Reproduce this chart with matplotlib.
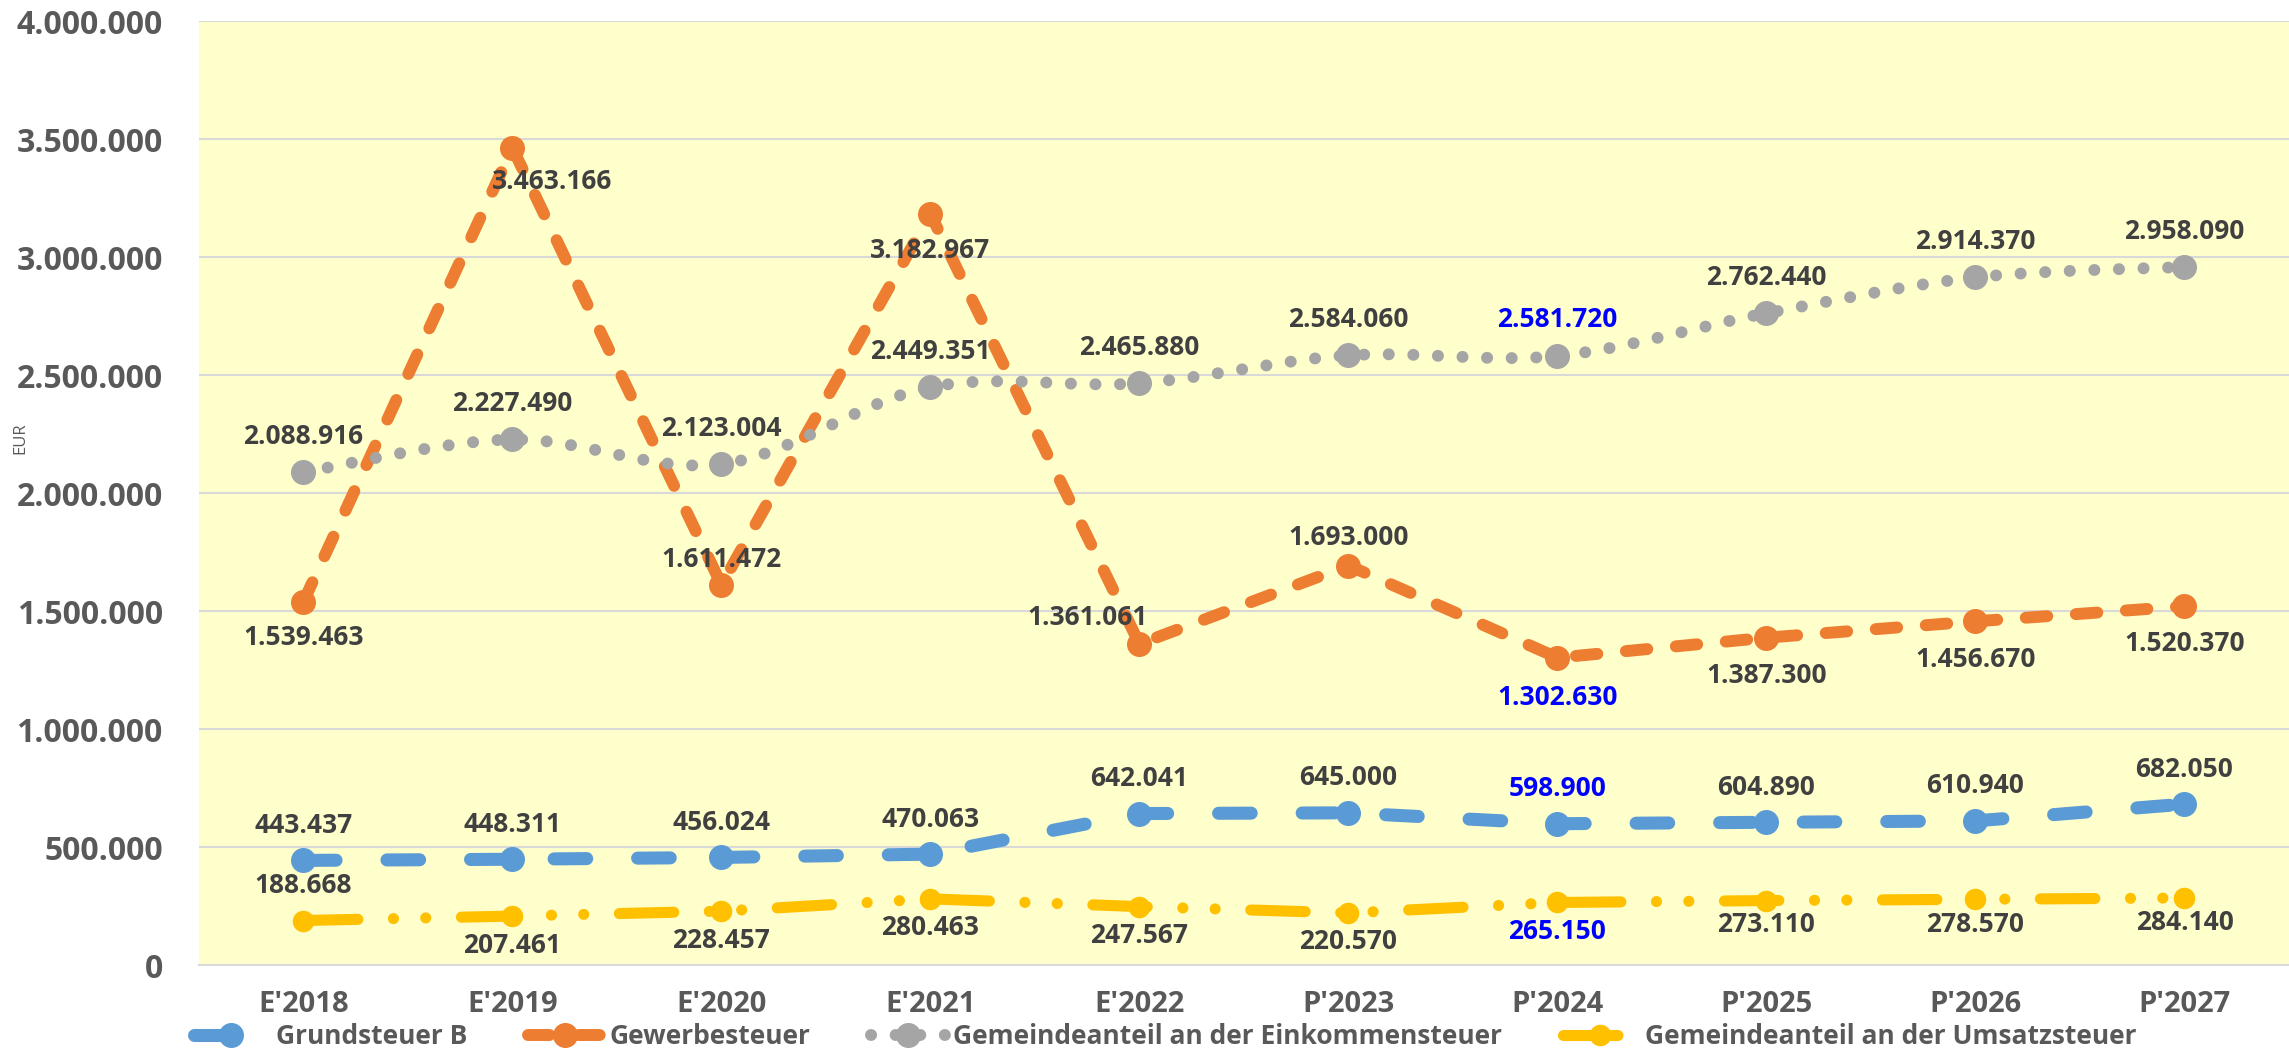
import numpy as np
import matplotlib.pyplot as plt
from matplotlib.lines import Line2D
from matplotlib.ticker import FuncFormatter

plt.rcParams['font.family'] = ['Open Sans', 'DejaVu Sans']

years = ["E'2018", "E'2019", "E'2020", "E'2021", "E'2022",
         "P'2023", "P'2024", "P'2025", "P'2026", "P'2027"]

grundsteuer = [443437, 448311, 456024, 470063, 642041,
               645000, 598900, 604890, 610940, 682050]
gewerbe = [1539463, 3463166, 1611472, 3182967, 1361061,
           1693000, 1302630, 1387300, 1456670, 1520370]
einkommen = [2088916, 2227490, 2123004, 2449351, 2465880,
             2584060, 2581720, 2762440, 2914370, 2958090]
umsatz = [188668, 207461, 228457, 280463, 247567,
          220570, 265150, 273110, 278570, 284140]

names = ["Grundsteuer B", "Gewerbesteuer",
         "Gemeindeanteil an der Einkommensteuer",
         "Gemeindeanteil an der Umsatzsteuer"]


def smooth(x, y, n=30):
    # Excel-like smoothed line (cubic bezier, catmull-rom control points)
    x = np.asarray(x, float)
    y = np.asarray(y, float)
    px = np.concatenate([[x[0]], x, [x[-1]]])
    py = np.concatenate([[y[0]], y, [y[-1]]])
    xs, ys = [], []
    t = np.linspace(0, 1, n)
    for i in range(1, len(px) - 2):
        p0 = np.array([px[i], py[i]])
        p3 = np.array([px[i + 1], py[i + 1]])
        c1 = p0 + (np.array([px[i + 1], py[i + 1]]) - np.array([px[i - 1], py[i - 1]])) / 6
        c2 = p3 - (np.array([px[i + 2], py[i + 2]]) - np.array([px[i], py[i]])) / 6
        b = (np.outer((1 - t) ** 3, p0) + np.outer(3 * (1 - t) ** 2 * t, c1)
             + np.outer(3 * (1 - t) * t ** 2, c2) + np.outer(t ** 3, p3))
        if i > 1:
            b = b[1:]
        xs.extend(b[:, 0])
        ys.extend(b[:, 1])
    return xs, ys


fig = plt.figure(figsize=(22.89, 10.51), dpi=100)
ax = fig.add_axes([0.0869, 0.0818, 0.9131, 0.898])
ax.set_facecolor('#FFFFCC')

x = np.arange(len(years))

styles = [
    dict(color='#5B9BD5', lw=9.4, dashes=(2.5, 3.9), ms=17, smooth=False),
    dict(color='#ED7D31', lw=8.6, dashes=(1.8, 2.4), ms=17, smooth=False),
    dict(color='#A5A5A5', lw=8.6, dashes=(0.01, 2.05), ms=17, smooth=True),
    dict(color='#FFC000', lw=8.0, dashes=(4.9, 3.2, 0.01, 2.9, 0.01, 3.2), ms=14.5,
         smooth=False),
]
series = [grundsteuer, gewerbe, einkommen, umsatz]

# label offsets in pixels (dx, dy), positive dy = up
lab_off = [
    [(0, 35)] * 10,
    [(0, -36), (40, -34), (0, 25), (0, -36), (-52, 26), (0, 28),
     (0, -40), (0, -38), (0, -38), (0, -37)],
    [(0, 36)] * 10,
    [(0, 35)] + [(0, -29)] * 5 + [(0, -29), (0, -24), (0, -25), (0, -25)],
]
blue_idx = 6

handles = []
for vals, st, name, offs in zip(series, styles, names, lab_off):
    if st['smooth']:
        sx, sy = smooth(x, vals)
    else:
        sx, sy = x, vals
    ln, = ax.plot(sx, sy, color=st['color'], lw=st['lw'],
                  dash_capstyle='round', solid_capstyle='round')
    ln.set_dashes(st['dashes'])
    ax.plot(x, vals, 'o', color=st['color'], ms=st['ms'], zorder=3)
    for i, v in enumerate(vals):
        txt = f"{v:,}".replace(",", ".")
        ax.annotate(txt, (x[i], v), xytext=offs[i], textcoords='offset pixels',
                    ha='center', va='center', fontsize=19, fontweight='bold',
                    color='#0000FF' if i == blue_idx else '#404040', zorder=5)
    h = Line2D([], [], color=st['color'], lw=st['lw'], marker='o', ms=st['ms'],
               dash_capstyle='round', solid_capstyle='round')
    h.set_dashes(st['dashes'])
    handles.append(h)

ax.set_xlim(-0.5, 9.5)
ax.set_ylim(0, 4000000)
ax.set_yticks(np.arange(0, 4000001, 500000))
ax.yaxis.set_major_formatter(FuncFormatter(lambda v, p: f"{int(v):,}".replace(",", ".")))
ax.set_xticks(x)
ax.set_xticklabels(years)
ax.grid(axis='y', color='#D9D9D9', lw=1.5, zorder=0)
ax.set_axisbelow(True)
for s in ['top', 'right', 'left']:
    ax.spines[s].set_visible(False)
ax.spines['bottom'].set_color('#D9D9D9')
ax.spines['bottom'].set_linewidth(1.5)
ax.tick_params(axis='y', length=0, pad=26, labelsize=23, labelcolor='#595959')
ax.tick_params(axis='x', length=0, pad=18, labelsize=21, labelcolor='#595959')
for lab in ax.get_xticklabels() + ax.get_yticklabels():
    lab.set_fontweight('bold')

fig.text(0.0087, 0.583, 'EUR', rotation=90, fontsize=12, color='#595959',
         ha='center', va='center')

fig.legend(handles, names, loc='center', bbox_to_anchor=(0.509, 0.0135),
           ncol=4, frameon=False, handlelength=2.8, handletextpad=0.3,
           columnspacing=2.3, borderpad=0, prop={'size': 19, 'weight': 'bold'},
           labelcolor='#595959')

fig.savefig('out.png', dpi=100)
